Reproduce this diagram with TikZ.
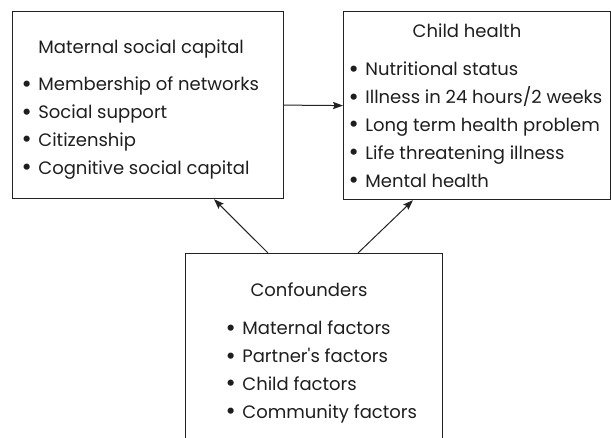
\documentclass[tikz,border=0pt]{standalone}
\usepackage{fontspec}
\setmainfont{Poppins}
\usetikzlibrary{arrows.meta, positioning}
\definecolor{lineDark}{HTML}{222222}
\definecolor{textDark}{HTML}{1E1E1E}
\newcommand{\itm}{\llap{\raisebox{-0.7pt}{\fontsize{12.5}{12}\selectfont\textbullet}\hspace{3.2pt}}}
\tikzset{
  box/.style={rectangle, draw=lineDark, line width=0.6pt, inner sep=0pt, anchor=north west},
  head/.style={font=\fontsize{9}{13.9}\selectfont, text=textDark, inner sep=0pt},
  items/.style={font=\fontsize{9}{13.9}\selectfont, text=textDark, inner sep=0pt, anchor=base west},
  arrowK/.style={-{Stealth[length=5pt, width=3.6pt, inset=0.8pt]}, lineDark, line width=0.5pt},
}

\begin{document}
\begin{tikzpicture}[x=0.5pt, y=-0.5pt]
    \useasboundingbox (0,0) rectangle (611,438);
    \clip (0,0) rectangle (611,438);
    % the three boxes
    \node[box, minimum width=135.5pt, minimum height=93.5pt] (msc) at (12,11) {};
    \node[box, minimum width=133.5pt, minimum height=94pt] (child) at (343,11) {};
    \node[box, minimum width=128.5pt, minimum height=100pt] (conf) at (185,253) {};
    % texts
    \node[head, anchor=base west] (mscT) at (38,54) {Maternal social capital};
    \node[items] (mscL) at (38,91) {\begin{tabular}[t]{@{}l@{}}
        \itm Membership of networks\\
        \itm Social support\\
        \itm Citizenship\\
        \itm Cognitive social capital
      \end{tabular}};
    \node[head, anchor=base] (childT) at (467,38) {Child health};
    \node[items] (childL) at (365,76) {\begin{tabular}[t]{@{}l@{}}
        \itm Nutritional status\\
        \itm Illness in 24 hours/2 weeks\\
        \itm Long term health problem\\
        \itm Life threatening illness\\
        \itm Mental health
      \end{tabular}};
    \node[head, anchor=base] (confT) at (309,297) {Confounders};
    \node[items] (confL) at (242,335) {\begin{tabular}[t]{@{}l@{}}
        \itm Maternal factors\\
        \itm Partner\textquotesingle s factors\\
        \itm Child factors\\
        \itm Community factors
      \end{tabular}};
    % connectors
    \draw[arrowK] (msc.east) -- (child.west);
    \draw[arrowK] ([xshift=41.5pt]conf.north west) -- ([xshift=101pt]msc.south west);
    \draw[arrowK] ([xshift=86.5pt]conf.north west) -- ([xshift=35pt]child.south west);
  \end{tikzpicture}
\end{document}
